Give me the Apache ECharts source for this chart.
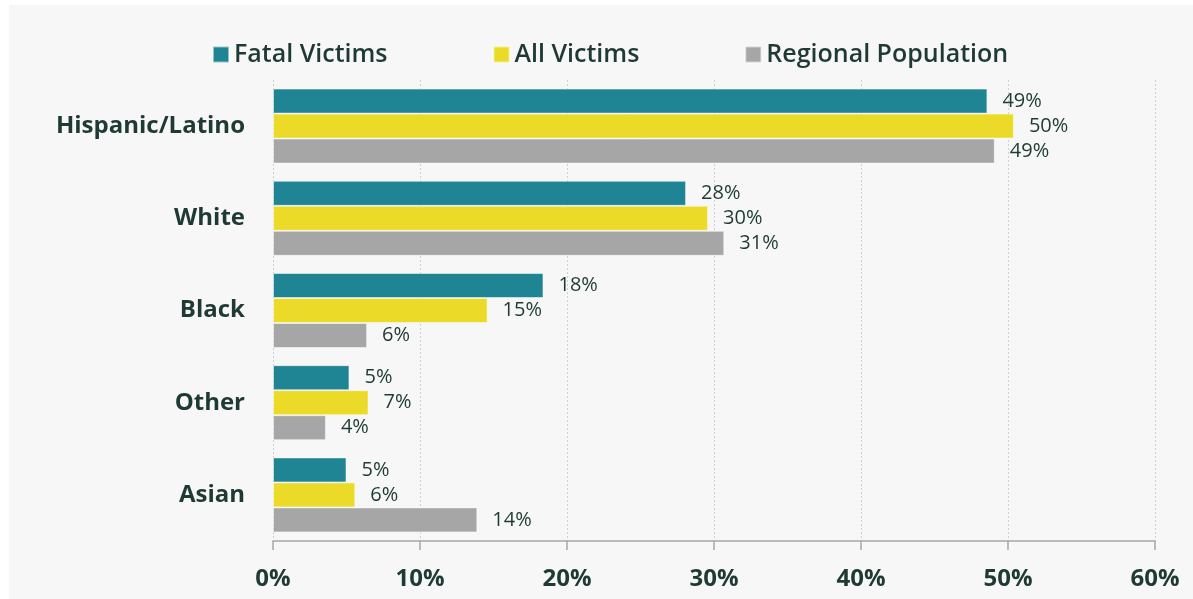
<!DOCTYPE html>
<html>
<head>
<meta charset="utf-8">
<script src="https://cdn.jsdelivr.net/npm/echarts@6/dist/echarts.min.js"></script>
<style>
  html, body { margin: 0; padding: 0; background: #ffffff; }
  #chart { width: 1193px; height: 599px; }
</style>
</head>
<body>
<div id="chart"></div>
<script>
// categories, top to bottom
var categories = ['Hispanic/Latino', 'White', 'Black', 'Other', 'Asian'];
var seriesNames = ['Fatal Victims', 'All Victims', 'Regional Population'];

// percent values
var fatalVictims = [48.6, 28.1, 18.4, 5.2, 5.0];
var allVictims = [50.4, 29.6, 14.6, 6.5, 5.6];
var regionalPopulation = [49.1, 30.7, 6.4, 3.6, 13.9];

var colors = ['#1f8493', '#ebdb28', '#a6a6a6'];
var textColor = '#1f3a34';
var fontFamily = '"Open Sans", "Noto Sans", sans-serif';

var chart = echarts.init(document.getElementById('chart'));

function makeSerie(name, data, idx) {
  return {
    name: name,
    type: 'bar',
    data: data,
    barWidth: 25,
    barGap: '0%',
    itemStyle: { color: colors[idx], borderColor: 'rgba(255,255,255,0.5)', borderWidth: 1 },
    label: {
      show: true,
      position: 'right',
      distance: 15,
      color: textColor,
      fontFamily: fontFamily,
      fontSize: 20,
      formatter: function (p) { return Math.round(p.value) + '%'; }
    }
  };
}

var option = {
  backgroundColor: '#ffffff',
  animation: false,
  textStyle: { fontFamily: fontFamily },
  graphic: [{
    type: 'rect',
    z: -10,
    shape: { x: 9, y: 5, width: 1200, height: 600 },
    style: { fill: '#f7f7f7' }
  }],
  legend: {
    data: seriesNames,
    left: 207,
    top: 37,
    itemWidth: 16,
    itemHeight: 16,
    itemGap: 105,
    icon: 'rect',
    textStyle: { color: textColor, fontSize: 25, fontWeight: 600, fontFamily: fontFamily, padding: [0, 0, 0, 0] }
  },
  grid: { left: 273, right: 38, top: 80, bottom: 58, containLabel: false },
  xAxis: {
    type: 'value',
    min: 0,
    max: 60,
    interval: 10,
    axisLine: { show: true, lineStyle: { color: '#a8a8a8', width: 1.5 } },
    axisTick: { show: true, length: 9, lineStyle: { color: '#a8a8a8', width: 1.5 } },
    splitLine: { show: true, lineStyle: { color: '#d0d0d0', type: [2, 2], width: 1 } },
    axisLabel: {
      color: textColor,
      fontSize: 24,
      fontWeight: 'bold',
      margin: 26,
      formatter: '{value}%'
    }
  },
  yAxis: {
    type: 'category',
    data: categories,
    inverse: true,
    axisLine: { show: false },
    axisTick: { show: false },
    axisLabel: {
      color: textColor,
      fontSize: 24,
      fontWeight: 'bold',
      margin: 28
    }
  },
  series: [
    makeSerie(seriesNames[0], fatalVictims, 0),
    makeSerie(seriesNames[1], allVictims, 1),
    makeSerie(seriesNames[2], regionalPopulation, 2)
  ]
};

chart.setOption(option);
</script>
</body>
</html>
